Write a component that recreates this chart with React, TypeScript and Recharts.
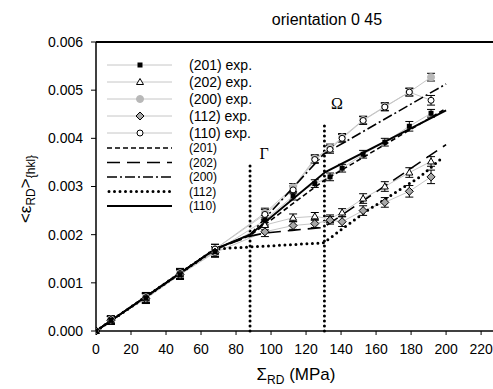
import React from 'react';
import { ComposedChart, Line, XAxis, YAxis, ErrorBar, ReferenceLine } from 'recharts';

const W = 493;
const H = 389;
const FONT = '"Liberation Sans", Arial, sans-serif';
const SERIF = '"Liberation Serif", "Times New Roman", serif';

// ---------- data ----------
const xTicks = [0, 20, 40, 60, 80, 100, 120, 140, 160, 180, 200, 220];
const yTicks = [0, 0.001, 0.002, 0.003, 0.004, 0.005, 0.006];

const stressExp = [0, 8.5, 28.5, 48, 68, 96.5, 112.6, 125, 133.7, 140.6, 152.6, 165, 179, 191.4];
const exp201 = [0, 0.00022, 0.00068, 0.00117, 0.00165, 0.0023, 0.0028, 0.00306, 0.0032, 0.00338, 0.00367, 0.00392, 0.00425, 0.00452];
const exp202 = [0, 0.00022, 0.00068, 0.00118, 0.00165, 0.0022, 0.00235, 0.00238, 0.00233, 0.00246, 0.00275, 0.003, 0.00329, 0.00352];
const exp200 = [0, 0.00024, 0.0007, 0.0012, 0.0017, 0.00245, 0.00298, 0.00358, 0.0038, 0.00402, 0.00438, 0.00466, 0.00496, 0.00527];
const exp112 = [0, 0.00022, 0.00067, 0.00117, 0.00163, 0.00206, 0.00219, 0.00223, 0.0023, 0.00227, 0.0025, 0.00267, 0.0029, 0.0032];
const exp110 = [0, 0.00023, 0.00069, 0.00119, 0.0017, 0.00242, 0.00293, 0.00356, 0.00377, 0.004, 0.00437, 0.00465, 0.00496, 0.00479];
const err201 = [0, 0.00008, 0.0001, 0.0001, 0.0001, 0.0001, 0.00008, 0.00008, 0.00008, 0.00008, 0.00008, 0.00008, 0.0001, 0.00008];
const err202 = [0, 0.00008, 0.0001, 0.0001, 0.0001, 0.0001, 0.00008, 0.00008, 0.00008, 0.00008, 0.0001, 0.0001, 0.0001, 0.0001];
const err200 = [0, 0.00008, 0.0001, 0.0001, 0.0001, 0.0001, 0.00008, 0.00008, 0.00008, 0.00008, 0.00008, 0.00008, 0.00008, 0.00008];
const err112 = [0, 0.00008, 0.0001, 0.0001, 0.0001, 0.0001, 0.00008, 0.00008, 0.00008, 0.0001, 0.0001, 0.0001, 0.00012, 0.00014];
const err110 = [0, 0.00008, 0.0001, 0.0001, 0.0001, 0.0001, 0.00008, 0.00008, 0.00008, 0.00008, 0.00008, 0.00008, 0.00008, 0.0001];

const mX201 = [0, 68, 88, 130, 200];
const m201 = [0, 0.0017, 0.00198, 0.00312, 0.00462];
const mX202 = [0, 68, 88, 96, 112, 130, 200];
const m202 = [0, 0.0017, 0.00197, 0.00203, 0.00209, 0.00215, 0.00387];
const mX200 = [0, 68, 88, 130, 200];
const m200 = [0, 0.0017, 0.002, 0.00367, 0.00513];
const mX112 = [0, 68, 76, 130, 140, 155, 170, 185, 198];
const m112 = [0, 0.0017, 0.00172, 0.00183, 0.0021, 0.0025, 0.00285, 0.0032, 0.0036];
const mX110 = [0, 68, 88, 131, 200];
const m110 = [0, 0.0017, 0.002, 0.0033, 0.00458];

const gammaX = 88;
const gammaTop = 0.00352;
const omegaX = 130.5;
const omegaTop = 0.00435;

const expNames = ['(201) exp.', '(202) exp.', '(200) exp.', '(112) exp.', '(110) exp.'];
const modelNames = ['(201)', '(202)', '(200)', '(112)', '(110)'];

const mk = (xs: number[], ys: number[], es?: number[]) =>
  xs.map((x, i) => ({ x, y: ys[i], err: es ? es[i] : 0 }));

const d201 = mk(stressExp, exp201, err201);
const d202 = mk(stressExp, exp202, err202);
const d200 = mk(stressExp, exp200, err200);
const d112 = mk(stressExp, exp112, err112);
const d110 = mk(stressExp, exp110, err110);

// ---------- markers ----------
type MK = 'square' | 'triangle' | 'gray' | 'diamond' | 'circle';
const Marker = ({ kind, cx, cy }: { kind: MK; cx: number; cy: number }) => {
  switch (kind) {
    case 'square':
      return <rect x={cx - 2.5} y={cy - 2.5} width={5} height={5} fill="#000" />;
    case 'triangle':
      return <polygon points={`${cx},${cy - 3.5} ${cx + 3.5},${cy + 2.5} ${cx - 3.5},${cy + 2.5}`} fill="#fff" stroke="#000" strokeWidth={1} />;
    case 'gray':
      return <circle cx={cx} cy={cy} r={3.5} fill="#b8b8b8" stroke="#b8b8b8" />;
    case 'diamond':
      return <polygon points={`${cx},${cy - 4} ${cx + 4},${cy} ${cx},${cy + 4} ${cx - 4},${cy}`} fill="#a8a8a8" stroke="#000" strokeWidth={1} />;
    default:
      return <circle cx={cx} cy={cy} r={3} fill="#fff" stroke="#000" strokeWidth={1} />;
  }
};
const dotFor = (kind: MK) => (p: any) =>
  p.cx == null || p.cy == null ? <g key={`e${p.index}`} /> : <g key={`k${kind}${p.index}`}><Marker kind={kind} cx={p.cx} cy={p.cy} /></g>;

const expKinds: MK[] = ['square', 'triangle', 'gray', 'diamond', 'circle'];
const modelDash = ['5 3', '13 7', '10 3 2 3', '0 5.5', undefined];

export default function App() {
  const grayLine = '#c6c6c6';
  const eb = <ErrorBar dataKey="err" direction="y" width={4} stroke="#000" strokeWidth={1} />;
  return (
    <div style={{ position: 'absolute', left: 0, top: 0, width: W, height: H, background: '#fff' }}>
      <ComposedChart width={W} height={H} margin={{ top: 42, right: 0, bottom: 28, left: 0 }}>
        <XAxis
          type="number"
          dataKey="x"
          domain={[0, 226.8]}
          ticks={xTicks}
          allowDataOverflow
          height={30}
          tickSize={4}
          tickMargin={9}
          axisLine={{ stroke: '#000', strokeWidth: 1.5 }}
          tickLine={{ stroke: '#000' }}
          tick={{ fill: '#000', fontSize: 14, fontFamily: FONT }}
        />
        <YAxis
          type="number"
          domain={[0, 0.006]}
          ticks={yTicks}
          width={96}
          tickFormatter={(v: number) => v.toFixed(3)}
          tickSize={5}
          tickMargin={8}
          axisLine={{ stroke: '#000', strokeWidth: 1.5 }}
          tickLine={{ stroke: '#000' }}
          tick={{ fill: '#000', fontSize: 14, fontFamily: FONT }}
        />
        <ReferenceLine y={0.006} stroke="#000" strokeWidth={2} />
        <ReferenceLine segment={[{ x: gammaX, y: 0 }, { x: gammaX, y: gammaTop }]} stroke="#000" strokeWidth={3} strokeDasharray="0 5" strokeLinecap="round" />
        <ReferenceLine segment={[{ x: omegaX, y: 0 }, { x: omegaX, y: omegaTop }]} stroke="#000" strokeWidth={3} strokeDasharray="0 5" strokeLinecap="round" />

        <Line data={d200} dataKey="y" stroke={grayLine} strokeWidth={1} dot={dotFor('gray')} isAnimationActive={false}>{eb}</Line>
        <Line data={d110} dataKey="y" stroke={grayLine} strokeWidth={1} dot={dotFor('circle')} isAnimationActive={false}>{eb}</Line>
        <Line data={d202} dataKey="y" stroke={grayLine} strokeWidth={1} dot={dotFor('triangle')} isAnimationActive={false}>{eb}</Line>
        <Line data={d112} dataKey="y" stroke={grayLine} strokeWidth={1} dot={dotFor('diamond')} isAnimationActive={false}>{eb}</Line>
        <Line data={d201} dataKey="y" stroke={grayLine} strokeWidth={1} dot={dotFor('square')} isAnimationActive={false}>{eb}</Line>

        <Line data={mk(mX201, m201)} dataKey="y" stroke="#000" strokeWidth={1.6} strokeDasharray={modelDash[0]} dot={false} isAnimationActive={false} />
        <Line data={mk(mX202, m202)} dataKey="y" stroke="#000" strokeWidth={1.6} strokeDasharray={modelDash[1]} dot={false} isAnimationActive={false} />
        <Line data={mk(mX200, m200)} dataKey="y" stroke="#000" strokeWidth={1.6} strokeDasharray={modelDash[2]} dot={false} isAnimationActive={false} />
        <Line data={mk(mX112, m112)} dataKey="y" stroke="#000" strokeWidth={3} strokeDasharray={modelDash[3]} strokeLinecap="round" dot={false} isAnimationActive={false} />
        <Line data={mk(mX110, m110)} dataKey="y" stroke="#000" strokeWidth={2} dot={false} isAnimationActive={false} />
      </ComposedChart>

      <svg width={W} height={H} style={{ position: 'absolute', left: 0, top: 0, pointerEvents: 'none' }}>
        <text x={327} y={25} textAnchor="middle" fontFamily={FONT} fontSize={16} fill="#000">orientation 0 45</text>
        <text transform="translate(31,189) rotate(-90)" textAnchor="middle" fontFamily={FONT} fontSize={17} fill="#000">
          &lt;ε<tspan fontSize={12} dy={4}>RD</tspan><tspan dy={-4}>&gt;</tspan><tspan fontSize={12} dy={4}>{'{hkl}'}</tspan>
        </text>
        <text x={296} y={380} textAnchor="middle" fontFamily={FONT} fontSize={17} fill="#000">
          Σ<tspan fontSize={12} dy={4}>RD</tspan><tspan dy={-4}> (MPa)</tspan>
        </text>
        <text x={264} y={159} textAnchor="middle" fontFamily={SERIF} fontSize={16} fill="#000">Γ</text>
        <text x={337} y={109} textAnchor="middle" fontFamily={SERIF} fontSize={16} fill="#000">Ω</text>

        {expNames.map((n, i) => {
          const y = 65 + i * 17;
          return (
            <g key={n}>
              <line x1={107} x2={172} y1={y} y2={y} stroke={grayLine} strokeWidth={1} />
              <Marker kind={expKinds[i]} cx={140} cy={y} />
              <text x={189} y={y + 5} fontFamily={FONT} fontSize={14} fill="#000">{n}</text>
            </g>
          );
        })}
        {modelNames.map((n, i) => {
          const y = 148 + i * 14.5;
          const dotted = i === 3;
          return (
            <g key={n}>
              <line x1={dotted ? 109 : 107} x2={172} y1={y} y2={y} stroke="#000" strokeWidth={dotted ? 3 : i === 4 ? 2 : 1.6} strokeDasharray={modelDash[i]} strokeLinecap={dotted ? 'round' : 'butt'} />
              <text x={189} y={y + 4} fontFamily={FONT} fontSize={12} fill="#000">{n}</text>
            </g>
          );
        })}
      </svg>
    </div>
  );
}
